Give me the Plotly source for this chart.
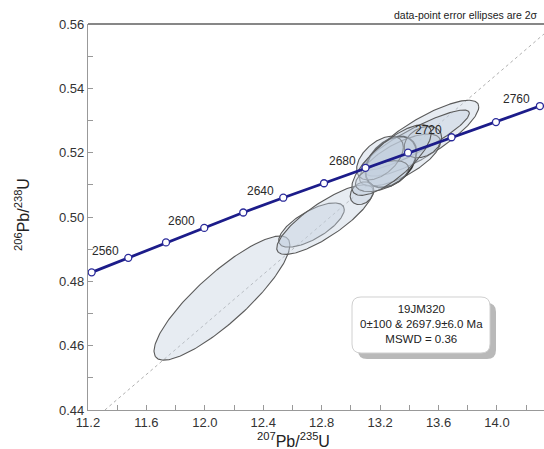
import numpy as np
import plotly.graph_objects as go

# ---------------- data ----------------
conc_ages = [2540, 2560, 2580, 2600, 2620, 2640, 2660, 2680, 2700, 2720, 2740, 2760]
conc_x = [11.225, 11.476, 11.734, 11.996, 12.263, 12.537, 12.816, 13.100, 13.391, 13.689, 13.993, 14.294]
conc_y = [0.4828, 0.4873, 0.4921, 0.4966, 0.5014, 0.5060, 0.5105, 0.5153, 0.5200, 0.5248, 0.5295, 0.5345]
label_ages = [2560, 2600, 2640, 2680, 2720, 2760]

# error ellipses (2 sigma half-widths)
ell_x = [12.117, 12.730, 12.822, 13.483, 13.446, 13.336, 13.274, 13.493, 13.199, 13.076, 13.213, 13.278]
ell_sx = [0.465, 0.2246, 0.330, 0.3925, 0.365, 0.2769, 0.1745, 0.128, 0.160, 0.0811, 0.182, 0.272]
ell_y = [0.4748, 0.4975, 0.4992, 0.5245, 0.5239, 0.5177, 0.5171, 0.5233, 0.5183, 0.5074, 0.5127, 0.5177]
ell_sy = [0.0193, 0.00688, 0.01084, 0.0118, 0.00935, 0.0081, 0.00793, 0.00489, 0.0068, 0.00353, 0.0048, 0.01098]
ell_rho = [0.855, 0.700, 0.817, 0.825, 0.893, 0.70, 0.385, 0.301, 0.50, 0.253, 0.50, 0.767]
bold_index = 6

upper_intercept_age = 2697.9
x_tickvals = [11.2, 11.6, 12.0, 12.4, 12.8, 13.2, 13.6, 14.0]
y_tickvals = [0.44, 0.46, 0.48, 0.50, 0.52, 0.54, 0.56]
x_range = [11.2, 14.322]
y_range = [0.44, 0.56]

sample = "19JM320"
age_text = "0±100 & 2697.9±6.0 Ma"
mswd_text = "MSWD = 0.36"
note_text = "data-point error ellipses are 2σ"
x_title = "<sup>207</sup>Pb/<sup>235</sup>U"
y_title = "<sup>206</sup>Pb/<sup>238</sup>U"

# ---------------- figure ----------------
fig = go.Figure()

# discordia reference line through origin and upper intercept
ui_x = float(np.interp(upper_intercept_age, conc_ages, conc_x))
ui_y = float(np.interp(upper_intercept_age, conc_ages, conc_y))
k = ui_y / ui_x
dx = np.array([y_range[0] / k, x_range[1]])
fig.add_trace(go.Scatter(x=dx, y=k * dx, mode="lines",
                         line=dict(color="#b0b0b0", width=1, dash="dot"),
                         hoverinfo="skip", showlegend=False))

t = np.linspace(0, 2 * np.pi, 200)
for i in range(len(ell_x)):
    ex = ell_x[i] + ell_sx[i] * np.cos(t)
    ey = ell_y[i] + ell_sy[i] * (ell_rho[i] * np.cos(t) + np.sqrt(1 - ell_rho[i] ** 2) * np.sin(t))
    bold = i == bold_index
    fig.add_trace(go.Scatter(x=ex, y=ey, mode="lines", fill="toself",
                             fillcolor="rgba(195,207,222,0.40)",
                             line=dict(color="#333333" if bold else "#5a5a5a",
                                       width=1.8 if bold else 1.1),
                             hoverinfo="skip", showlegend=False))

# concordia
fig.add_trace(go.Scatter(x=conc_x, y=conc_y, mode="lines+markers",
                         line=dict(color="#1c1c8a", width=2.8),
                         marker=dict(symbol="circle", size=7, color="white",
                                     line=dict(color="#2a2a9a", width=1.3)),
                         hoverinfo="skip", showlegend=False, cliponaxis=False))

for a in label_ages:
    i = conc_ages.index(a)
    fig.add_annotation(x=conc_x[i], y=conc_y[i], text=str(a), showarrow=False,
                       xanchor="center", yanchor="middle",
                       xshift=-23, yshift=7, font=dict(size=12, color="#2a2a2a"))

# top border line
fig.add_shape(type="line", xref="paper", yref="paper", x0=0, x1=1, y0=1, y1=1,
              line=dict(color="#111111", width=1.2))

# info box with shadow (paper coordinates)
W, H = 456.0, 386.0
def rrect(x0, y0, x1, y1, r):
    # x in px from plot left, y in px from plot top
    def P(px, py):
        return f"{px / W:.5f},{1 - py / H:.5f}"
    return (f"M {P(x0 + r, y0)} L {P(x1 - r, y0)} Q {P(x1, y0)} {P(x1, y0 + r)} "
            f"L {P(x1, y1 - r)} Q {P(x1, y1)} {P(x1 - r, y1)} L {P(x0 + r, y1)} "
            f"Q {P(x0, y1)} {P(x0, y1 - r)} L {P(x0, y0 + r)} Q {P(x0, y0)} {P(x0 + r, y0)} Z")

bx0, by0, bx1, by1 = 352 - 88, 297 - 24, 490 - 88, 353 - 24
fig.add_shape(type="path", xref="paper", yref="paper",
              path=rrect(bx0 + 6, by0 + 6, bx1 + 6, by1 + 6, 9),
              fillcolor="#b9b9b9", line=dict(width=0))
fig.add_shape(type="path", xref="paper", yref="paper",
              path=rrect(bx0, by0, bx1, by1, 9),
              fillcolor="white", line=dict(color="#d0d0d0", width=1))
fig.add_annotation(xref="paper", yref="paper", x=(421 - 88) / W, y=1 - (324 - 24) / H,
                   xanchor="center", yanchor="middle",
                   text=f"{sample}<br>{age_text}<br>{mswd_text}", showarrow=False,
                   align="center", font=dict(size=11.5, color="#222222"))

fig.add_annotation(xref="paper", yref="paper", x=(540 - 88) / W, y=1.0, yanchor="bottom",
                   xanchor="right", yshift=1, text=note_text, showarrow=False,
                   font=dict(size=10.5, color="#222222"))

# axis titles
fig.add_annotation(xref="paper", yref="paper", x=(293 - 88) / W, y=1 - (440 - 24) / H,
                   xanchor="center", yanchor="middle", text=x_title, showarrow=False,
                   font=dict(size=16, color="#222222"))
fig.add_annotation(xref="paper", yref="paper", x=(22 - 88) / W, y=1 - (215 - 24) / H,
                   xanchor="center", yanchor="middle", text=y_title, showarrow=False,
                   textangle=-90, font=dict(size=16, color="#222222"))

fig.update_layout(
    width=544, height=449,
    margin=dict(l=88, r=0, t=24, b=39),
    paper_bgcolor="white", plot_bgcolor="white",
    font=dict(family="Liberation Sans, Arial, sans-serif", color="#333333"),
    xaxis=dict(range=x_range, tickvals=x_tickvals, tickformat=".1f",
               ticks="inside", ticklen=5, tickcolor="#999999",
               minor=dict(dtick=0.2, ticks="inside", ticklen=5, tickcolor="#999999"),
               showline=True, linecolor="#999999", linewidth=1.2,
               showgrid=False, zeroline=False, tickfont=dict(size=13)),
    yaxis=dict(range=y_range, tickvals=y_tickvals, tickformat=".2f",
               ticks="inside", ticklen=5, tickcolor="#999999",
               minor=dict(dtick=0.01, ticks="inside", ticklen=5, tickcolor="#999999"),
               showline=True, linecolor="#999999", linewidth=1.2,
               showgrid=False, zeroline=False, tickfont=dict(size=13)),
)

fig.write_html("out.html")
